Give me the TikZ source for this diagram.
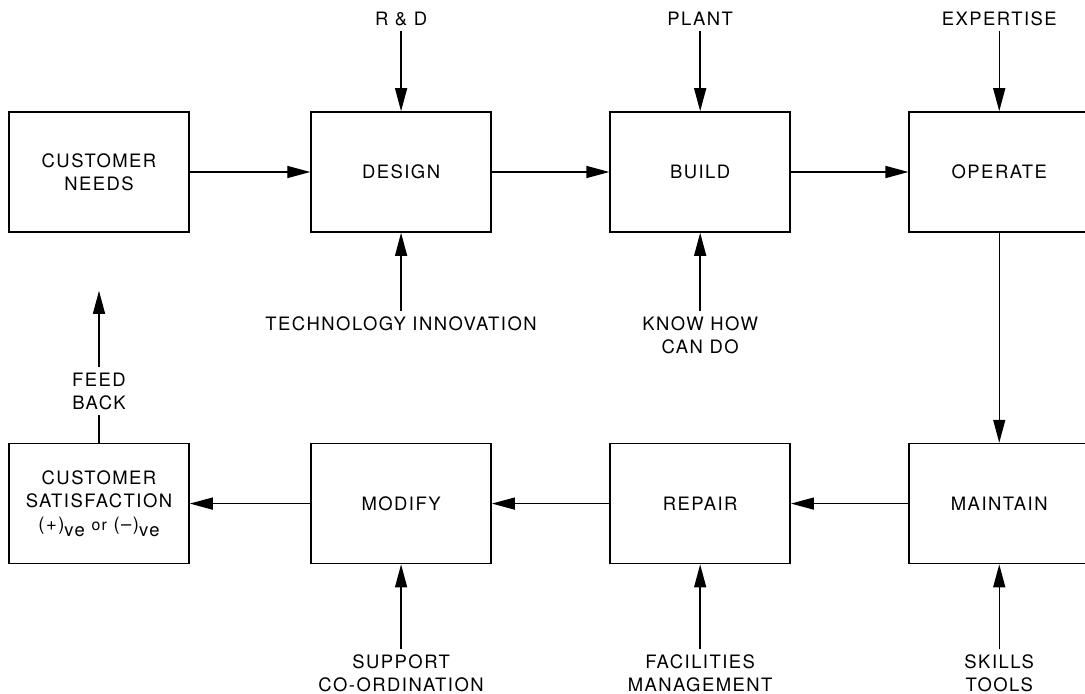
\documentclass[tikz,border=0pt]{standalone}
\usepackage{fontspec}
\setmainfont[LetterSpace=8]{TeX Gyre Heros}
\usetikzlibrary{arrows.meta, positioning}

\begin{document}
\begin{tikzpicture}[
	stage/.style={draw, line width=0.9pt, minimum width=3.6cm, minimum height=2.4cm, align=center, inner sep=2pt},
	inlabel/.style={align=center, inner sep=3pt},
	flow/.style={-{Triangle[length=4.6mm,width=2.4mm]}, line width=0.8pt},
	font=\fontsize{10.5}{13}\selectfont
	]
	\useasboundingbox (0,0) rectangle (21.7,-13.88);
	% top row
	\node[stage] (needs) at (1.98,-3.44) {CUSTOMER\\NEEDS};
	\node[stage, right=2.41cm of needs] (design) {DESIGN};
	\node[stage, right=2.35cm of design] (build) {BUILD};
	\node[stage, right=2.35cm of build] (operate) {OPERATE};
	% bottom row
	\node[stage, below=4.2cm of needs] (satisfied) {CUSTOMER\\SATISFACTION\\(+)\raisebox{-0.6ex}{ve} {\small or} (--)\raisebox{-0.6ex}{ve}};
	\node[stage, right=2.41cm of satisfied] (modify) {MODIFY};
	\node[stage, right=2.35cm of modify] (repair) {REPAIR};
	\node[stage, right=2.35cm of repair] (maintain) {MAINTAIN};
	% inputs
	\node[inlabel, above=1.6cm of design] (rnd) {R \& D};
	\node[inlabel, above=1.6cm of build] (plant) {PLANT};
	\node[inlabel, above=1.6cm of operate] (expert) {EXPERTISE};
	\node[inlabel, below=1.56cm of design] (tech) {TECHNOLOGY INNOVATION};
	\node[inlabel, below=1.56cm of build] (knowhow) {KNOW HOW\\CAN DO};
	\node[inlabel, below=1.7cm of modify] (support) {SUPPORT\\CO-ORDINATION};
	\node[inlabel, below=1.7cm of repair] (facil) {FACILITIES\\MANAGEMENT};
	\node[inlabel, below=1.7cm of maintain] (skills) {SKILLS\\TOOLS};
	% feedback
	\node[inlabel, above=0.55cm of satisfied] (feedback) {FEED\\BACK};
	\coordinate[below=1.16cm of needs] (fbtip);

	\draw[flow] (needs) -- (design);
	\draw[flow] (design) -- (build);
	\draw[flow] (build) -- (operate);
	\draw[flow] (operate) -- (maintain);
	\draw[flow] (maintain) -- (repair);
	\draw[flow] (repair) -- (modify);
	\draw[flow] (modify) -- (satisfied);

	\draw[flow] (rnd) -- (design);
	\draw[flow] (plant) -- (build);
	\draw[flow] (expert) -- (operate);
	\draw[flow] (tech) -- (design);
	\draw[flow] (knowhow) -- (build);
	\draw[flow] (support) -- (modify);
	\draw[flow] (facil) -- (repair);
	\draw[flow] (skills) -- (maintain);

	\draw[line width=0.8pt] (satisfied) -- (feedback);
	\draw[flow] (feedback) -- (fbtip);
\end{tikzpicture}
\end{document}
